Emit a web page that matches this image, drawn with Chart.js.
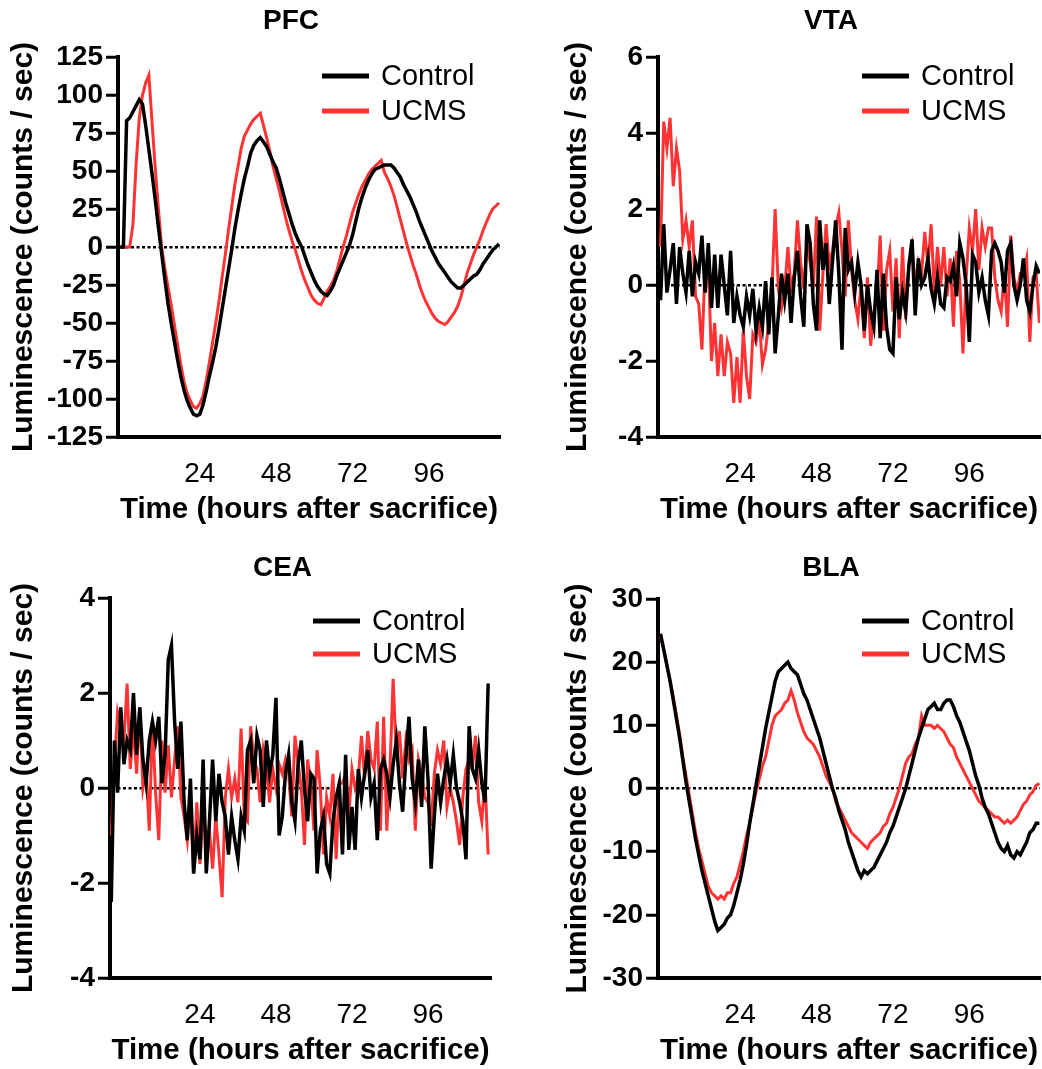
<!DOCTYPE html>
<html lang="en">
<head>
<meta charset="UTF-8">
<title>Luminescence after sacrifice</title>
<script src="https://cdn.jsdelivr.net/npm/chart.js"></script>
<style>
  body { margin: 0; background: #fff; }
  .panel { position: absolute; width: 521px; height: 534px; }
</style>
</head>
<body>
<div class="panel" style="left:0;top:0"><canvas id="pfcChart" width="521" height="534"></canvas></div>
<div class="panel" style="left:521px;top:0"><canvas id="vtaChart" width="521" height="534"></canvas></div>
<div class="panel" style="left:0;top:535px"><canvas id="ceaChart" width="521" height="534"></canvas></div>
<div class="panel" style="left:521px;top:535px"><canvas id="blaChart" width="521" height="534"></canvas></div>

<script>
// one reading per hour; PFC/VTA/BLA start at -1 h, CEA at -4 h
const hoursMain = Array.from({length: 120}, (_, i) => i - 1);
const hoursCea = Array.from({length: 120}, (_, i) => i - 4);
const xTickLabels = [24, 48, 72, 96];

// PFC
const pfcTicks = [125, 100, 75, 50, 25, 0, -25, -50, -75, -100, -125];
const pfcControl = [
  0, 0, 83, 85, 89, 93, 97, 94, 80, 64,
  48, 31, 13, -4, -21, -37, -50, -62, -74, -85,
  -94, -101, -106, -110, -111, -110, -104, -95, -85, -76,
  -66, -54, -41, -28, -15, -2, 12, 24, 35, 45,
  53, 62, 67, 70, 72, 69, 66, 61, 56, 52,
  45, 37, 29, 22, 15, 9, 4, 0, -6, -12,
  -17, -22, -26, -29, -31, -32, -29, -25, -19, -14,
  -9, -4, 1, 8, 17, 26, 33, 39, 44, 48,
  51, 52, 53, 54, 54, 54, 52, 49, 46, 41,
  37, 33, 28, 23, 17, 12, 7, 2, -3, -7,
  -11, -14, -17, -20, -23, -25, -27, -27, -25, -23,
  -21, -19, -18, -15, -11, -8, -5, -2, 0, 2
];
const pfcUcms = [
  0, 0, 0, 0, 15, 55, 85, 100, 108, 113,
  82, 52, 25, 0, -14, -26, -38, -51, -64, -77,
  -88, -96, -101, -105, -106, -103, -98, -88, -76, -63,
  -50, -36, -20, -5, 11, 26, 41, 53, 65, 73,
  77, 81, 84, 86, 88, 80, 72, 63, 53, 45,
  37, 28, 19, 11, 4, -2, -9, -16, -22, -27,
  -32, -35, -37, -38, -34, -29, -26, -22, -16, -8,
  0, 7, 15, 23, 29, 35, 40, 44, 48, 51,
  53, 55, 57, 49, 45, 40, 34, 26, 18, 10,
  2, -5, -12, -18, -25, -31, -36, -40, -44, -47,
  -49, -50, -51, -49, -46, -43, -39, -33, -25, -17,
  -11, -5, 0, 5, 11, 16, 21, 25, 27, 29
];

// VTA
const vtaTicks = [6, 4, 2, 0, -2, -4];
const vtaControl = [
  -0.4, 1.6, -0.2, 0.4, 1.1, -0.5, 1.0, 0.3, -0.2, 0.9,
  -0.3, 0.6, 0.3, 1.3, -0.2, 1.1, -0.6, 0.8, -0.6, 0.8,
  0.0, -0.8, 0.9, -1.0, -0.3, -0.8, -1.1, -0.3, -0.8, -0.1,
  -1.2, -0.6, -1.1, 0.1, -1.3, 0.2, -1.8, -0.8, 0.3, -0.4,
  0.3, -1.0, 0.2, 0.9, -0.3, -1.1, 1.6, 1.1, -0.5, -1.2,
  1.7, 0.4, 1.1, -0.5, 0.6, 1.7, 0.3, -1.7, 1.5, 0.4,
  0.6, -0.2, 0.6, 0.0, -1.2, 0.0, -0.7, -1.1, 0.4, -1.4,
  0.3, -1.1, -1.7, -1.8, 0.2, -0.9, -0.2, -0.7, 0.5, 1.2,
  -0.8, 0.7, 0.0, 0.2, 0.7, -0.1, -0.5, 0.2, -0.5, -0.6,
  0.2, 0.1, 0.5, -0.3, 1.1, 0.7, 0.0, -1.5, 0.8, 0.6,
  -0.2, 0.2, -0.4, -0.8, 0.9, 1.1, 0.9, 0.6, -0.2, 0.9,
  1.1, 0.0, -0.4, 0.0, 0.7, -0.4, -0.7, 0.0, 0.5, 0.3
];
const vtaUcms = [
  1.0, 4.3, 3.6, 4.4, 2.6, 3.6, 3.0, 1.2, 1.7, 1.0,
  1.7, -0.3, -0.5, -1.7, 0.5, 0.6, -2.0, -1.0, -2.4, -1.3,
  -2.4, -1.5, -1.8, -3.1, -1.9, -3.1, -1.2, -2.4, -3.0, -1.3,
  -1.5, -0.9, -2.1, -1.7, -1.0, -0.1, 2.0, -0.1, -0.6, -0.1,
  1.0, -0.1, 0.3, 1.7, 0.6, -0.1, 1.1, 0.6, -0.1, 1.8,
  -1.2, 0.3, 1.6, 0.5, 0.9, 1.5, 1.9, 0.9, -0.3, 1.7,
  0.4, -0.4, -0.9, 0.0, -1.4, 0.2, -1.6, -0.7, -0.3, 1.3,
  -1.2, 0.4, 0.9, -0.7, 0.7, -1.4, 1.0, -0.9, 0.5, 1.0,
  0.0, 0.6, 0.3, 1.4, 0.5, 1.6, -0.2, 1.0, 0.0, 1.0,
  -0.3, 0.7, -1.1, 0.9, 0.1, -1.8, 0.2, 1.5, 0.9, 2.0,
  0.4, 1.5, 1.0, 1.5, 1.5, 0.2, -0.4, -0.7, 0.3, -1.1,
  1.3, 0.2, -0.2, 0.3, 0.3, 0.7, -1.5, 0.2, 0.3, -1.0
];

// CEA
const ceaTicks = [4, 2, 0, -2, -4];
const ceaControl = [
  -2.4, 1.0, -0.1, 1.7, 0.5, 1.0, 0.8, 2.0, 0.7, 1.7,
  0.6, 0.1, 1.0, 1.4, 1.0, 1.5, 0.1, 0.7, 2.7, 3.0,
  1.4, 0.4, 1.4, -0.3, -1.1, 0.2, -1.8, -1.0, -1.5, 0.6,
  -1.8, -0.7, 0.6, -0.7, 0.3, -0.3, -0.6, -1.4, -0.6, -1.1,
  -1.5, -0.6, -0.9, 0.8, 1.0, 0.1, 1.1, 0.8, -0.4, 1.0,
  0.3, 0.7, 1.9, -1.0, -0.6, 0.3, 0.7, -0.3, -0.7, 0.5,
  1.0, 0.0, -0.7, 0.3, 0.2, -1.8, -0.9, -0.6, -1.6, -1.8,
  -0.7, -0.2, 0.1, -1.4, 0.7, -1.3, -0.4, -1.3, 0.4, -0.2,
  0.3, 0.8, -0.2, 0.1, -1.1, 0.4, 0.6, 0.3, -0.2, 0.5,
  1.0, 0.1, -0.5, 0.6, 1.5, 0.2, -0.3, 0.6, -0.4, 1.3,
  0.2, -1.7, -0.6, 0.3, -0.3, 0.2, 0.6, 0.1, 0.7, 0.0,
  -0.3, -0.7, -1.5, 1.3, 0.4, 0.2, 0.8, 0.1, -0.3, 2.2
];
const ceaUcms = [
  -1.0, 0.5, 1.6, 1.3, 1.0, 2.2, 0.4, 1.3, 0.3, 1.7,
  0.0, 0.4, -0.9, 1.4, -0.1, -1.1, 1.0, -0.1, 0.9, -0.2,
  0.6, 1.3, -0.2, -0.6, -1.1, -0.2, -1.8, -0.3, -1.6, -0.6,
  -1.0, -0.9, -1.7, -0.6, -1.4, -2.3, -0.2, 0.4, -0.2, 0.2,
  -0.3, 1.25, -0.6, -0.7, 1.3, 0.6, 0.4, -0.3, 0.8, 0.4,
  -0.3, 0.4, 0.0, 0.5, 0.3, 0.6, 0.3, -0.6, 1.1, 0.5,
  0.0, -1.2, 0.6, 0.1, -0.9, 0.8, 0.0, -1.4, -0.2, -0.6,
  0.3, -1.5, 0.1, 0.1, 0.3, -0.6, 0.4, 0.0, 0.2, 1.1,
  0.2, 1.2, 0.6, 0.4, 1.4, -0.9, 1.5, -0.9, 0.4, 2.3,
  0.7, 1.2, 0.2, 1.0, 0.6, 0.8, -0.9, 0.6, 0.3, -0.2,
  -0.3, -0.8, 0.3, 0.8, 0.5, 1.0, -0.4, 0.0, -0.3, -0.7,
  -1.2, -0.2, 0.4, 0.6, 0.4, 1.1, -0.3, -0.7, 0.2, -1.4
];

// BLA
const blaTicks = [30, 20, 10, 0, -10, -20, -30];
const blaControl = [
  24.5, 22, 19.5, 17, 14, 11, 8, 4.5, 1, -2,
  -5, -8, -10.5, -13, -15, -17, -19, -21, -22.5, -22,
  -21.5, -20.5, -20, -18.5, -16.5, -14.5, -12, -9, -5.5, -2.5,
  0.5, 3.5, 6.5, 9.5, 12, 14.5, 17, 18.5, 19, 19.5,
  20, 19, 18.5, 18, 16.5, 15, 14, 12.5, 11, 9.5,
  8, 6, 4, 2, 0, -1.5, -3.5, -5, -6.5, -8.5,
  -10, -11.5, -13, -14, -13, -13.5, -13, -12.5, -11.5, -10.5,
  -9.5, -8.5, -7, -6, -4.5, -3, -1.5, 0, 2, 4,
  6, 8, 9.5, 11, 12.5, 13, 13.5, 12.5, 12.5, 13.5,
  14, 14, 13, 11.5, 10.5, 9, 7.5, 6, 4, 2,
  0.5, -1.5, -3, -4, -5.5, -7, -8.5, -9.5, -10, -9,
  -10.5, -11, -10, -10.5, -9.5, -8.5, -7, -6.5, -5.5, -5.5
];
const blaUcms = [
  24, 22, 19.5, 17, 14.5, 11.5, 8.5, 5, 2, -1,
  -4, -7, -9.5, -11.5, -13.5, -15.5, -16.5, -17, -17.5, -17,
  -17.5, -16.5, -16.5, -15, -14, -12, -10, -7.5, -5.5, -3,
  -0.5, 1.5, 3.5, 5, 7.5, 10, 11.5, 12, 12.5, 13.5,
  14, 15.5, 14, 12, 10.5, 9, 8, 7.5, 7, 6,
  5, 3.5, 2, 1, 0, -2, -3, -4, -5, -6,
  -7, -7.5, -8, -8.5, -9, -9.5, -8.5, -8, -7.5, -7,
  -6, -5.5, -4, -3, -1.5, 0, 2, 4, 5, 5.5,
  7, 8, 11.5, 10, 10, 10, 9.5, 10, 9.5, 9,
  8, 7, 6.5, 5, 4, 3, 2, 1, 0, -1,
  -2, -2.5, -3, -3.5, -4, -4.5, -4.5, -5, -5.5, -5,
  -5.5, -5, -4.5, -3.5, -2.5, -2, -1, -0.5, 0.5, 0.8
];

const FONT = '"Liberation Sans", Arial, sans-serif';
const RED = '#ff3333';
Chart.defaults.font.family = FONT;
Chart.defaults.color = '#000';

// title above the plot, a bit left of the plot centre like the original
const panelTitle = {
  id: 'panelTitle',
  afterDraw(chart, args, opts) {
    const {ctx, chartArea} = chart;
    ctx.save();
    ctx.font = 'bold 28px ' + FONT;
    ctx.fillStyle = '#000';
    ctx.textAlign = 'center';
    ctx.textBaseline = 'middle';
    ctx.fillText(opts.text, (chartArea.left + chartArea.right) / 2 + opts.dx, opts.y);
    ctx.restore();
  }
};

// legend sits inside the plot, top right
const innerLegend = {
  id: 'innerLegend',
  afterDatasetsDraw(chart, args, opts) {
    const {ctx, chartArea} = chart;
    ctx.save();
    chart.data.datasets.forEach((ds, i) => {
      const y = chartArea.top + opts.rows[i];
      ctx.strokeStyle = ds.borderColor;
      ctx.lineWidth = 5;
      ctx.beginPath();
      ctx.moveTo(chartArea.right - 178, y);
      ctx.lineTo(chartArea.right - 131, y);
      ctx.stroke();
      ctx.font = '29px ' + FONT;
      ctx.fillStyle = '#000';
      ctx.textAlign = 'left';
      ctx.textBaseline = 'middle';
      ctx.fillText(ds.label, chartArea.right - 119, y + 1);
    });
    ctx.restore();
  }
};

function makeChart(id, p) {
  return new Chart(document.getElementById(id), {
    type: 'line',
    data: {
      datasets: [{
        label: 'Control',
        data: p.hours.map((h, i) => ({x: h, y: p.control[i]})),
        borderColor: '#000',
        borderWidth: 3.5,
        pointRadius: 0
      }, {
        label: 'UCMS',
        data: p.hours.map((h, i) => ({x: h, y: p.ucms[i]})),
        borderColor: RED,
        borderWidth: 3,
        pointRadius: 0
      }]
    },
    plugins: [panelTitle, innerLegend],
    options: {
      responsive: false,
      animation: false,
      layout: { padding: p.padding },
      plugins: {
        legend: { display: false },
        tooltip: { enabled: false },
        panelTitle: { text: p.title, y: p.titleY, dx: -18 },
        innerLegend: { rows: p.legendRows }
      },
      scales: {
        x: {
          type: 'linear',
          min: p.xMin,
          max: p.xMax,
          afterBuildTicks: s => { s.ticks = xTickLabels.map(v => ({value: v})); },
          afterFit: s => { s.height = 91; },
          grid: { display: false },
          border: { display: true, color: '#000', width: 4 },
          ticks: { color: '#000', font: { size: 28 }, padding: 12, autoSkip: false, maxRotation: 0 },
          title: {
            display: true,
            text: 'Time (hours after sacrifice)',
            color: '#000',
            font: { size: 29.5, weight: 'bold' },
            padding: { top: 0, bottom: 0 }
          }
        },
        y: {
          min: p.ticks[p.ticks.length - 1],
          max: p.ticks[0],
          afterBuildTicks: s => { s.ticks = p.ticks.map(v => ({value: v})); },
          afterFit: s => { s.width = p.yWidth; },
          grid: {
            color: c => (c.tick && c.tick.value === 0 ? '#000' : 'rgba(0,0,0,0)'),
            lineWidth: 2.5,
            drawTicks: true,
            tickLength: 12,
            tickColor: '#000',
            tickWidth: 3
          },
          border: { display: true, color: '#000', width: 4, dash: [3, 2.5] },
          ticks: { color: '#000', font: { size: 28, weight: 'bold' }, padding: 3, autoSkip: false },
          title: {
            display: true,
            text: 'Luminescence (counts / sec)',
            color: '#000',
            font: { size: 30, weight: 'bold' },
            padding: { top: 6, bottom: 0 }
          }
        }
      }
    }
  });
}

makeChart('pfcChart', {
  title: 'PFC', titleY: 21, legendRows: [19, 54],
  hours: hoursMain, control: pfcControl, ucms: pfcUcms, ticks: pfcTicks,
  xMin: -1.7, xMax: 118.3, yWidth: 118,
  padding: { left: 0, right: 21, top: 57, bottom: 6 }
});
makeChart('vtaChart', {
  title: 'VTA', titleY: 21, legendRows: [19, 54],
  hours: hoursMain, control: vtaControl, ucms: vtaUcms, ticks: vtaTicks,
  xMin: -1.8, xMax: 118.2, yWidth: 104,
  padding: { left: 33, right: 2, top: 57, bottom: 6 }
});
makeChart('ceaChart', {
  title: 'CEA', titleY: 33, legendRows: [23, 56],
  hours: hoursCea, control: ceaControl, ucms: ceaUcms, ticks: ceaTicks,
  xMin: -4.4, xMax: 115.9, yWidth: 110,
  padding: { left: 0, right: 30, top: 63, bottom: 0 }
});
makeChart('blaChart', {
  title: 'BLA', titleY: 33, legendRows: [22, 55],
  hours: hoursMain, control: blaControl, ucms: blaUcms, ticks: blaTicks,
  xMin: -1.8, xMax: 118.2, yWidth: 104,
  padding: { left: 33, right: 2, top: 64, bottom: 0 }
});
</script>
</body>
</html>
